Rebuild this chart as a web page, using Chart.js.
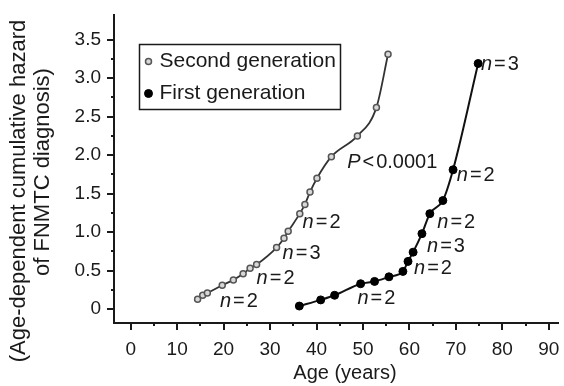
<!DOCTYPE html>
<html>
<head>
<meta charset="utf-8">
<script src="https://cdn.jsdelivr.net/npm/chart.js@4.4.0/dist/chart.umd.min.js"></script>
<style>
html, body { margin: 0; padding: 0; background: #fff; }
#wrap { width: 564px; height: 386px; }
</style>
</head>
<body>
<div id="wrap"><canvas id="hazard"></canvas></div>
<script>
// values
var secondAge = [14.4, 15.5, 16.5, 19.7, 22.1, 24.2, 25.7, 27.1, 31.4, 33.0, 33.9, 36.4, 37.5, 38.6, 40.1, 43.2, 48.8, 52.9, 55.4];
var secondHazard = [0.13, 0.18, 0.21, 0.31, 0.38, 0.46, 0.53, 0.58, 0.80, 0.92, 1.01, 1.24, 1.36, 1.52, 1.70, 1.98, 2.25, 2.62, 3.31];
var firstAge = [36.3, 40.9, 43.9, 49.5, 52.5, 55.6, 58.6, 59.7, 60.8, 62.7, 64.4, 67.2, 69.4, 74.8];
var firstHazard = [0.04, 0.12, 0.18, 0.33, 0.36, 0.42, 0.49, 0.62, 0.74, 0.98, 1.24, 1.41, 1.81, 3.19];

var xMajor = [0, 10, 20, 30, 40, 50, 60, 70, 80, 90];
var xMinor = [5, 15, 25, 35, 45, 55, 65, 75, 85];
var yMajor = [0, 0.5, 1.0, 1.5, 2.0, 2.5, 3.0, 3.5];
var yMinor = [0.25, 0.75, 1.25, 1.75, 2.25, 2.75, 3.25];
var yLabels = ['0', '0.5', '1.0', '1.5', '2.0', '2.5', '3.0', '3.5'];

var xTitle = 'Age (years)';
var yTitle = ['(Age-dependent cumulative hazard', 'of FNMTC diagnosis)'];

// annotations: italic part, operator, number, anchored at (age, hazard)
var notes = [
    { age: 19.2, val: 0.10, it: 'n', op: '=', txt: '2' },
    { age: 27.1, val: 0.40, it: 'n', op: '=', txt: '2' },
    { age: 32.7, val: 0.72, it: 'n', op: '=', txt: '3' },
    { age: 37.0, val: 1.13, it: 'n', op: '=', txt: '2' },
    { age: 46.6, val: 1.90, it: 'P', op: '<', txt: '0.0001' },
    { age: 75.4, val: 3.18, it: 'n', op: '=', txt: '3' },
    { age: 70.2, val: 1.74, it: 'n', op: '=', txt: '2' },
    { age: 66.0, val: 1.12, it: 'n', op: '=', txt: '2' },
    { age: 63.8, val: 0.81, it: 'n', op: '=', txt: '3' },
    { age: 61.0, val: 0.53, it: 'n', op: '=', txt: '2' },
    { age: 48.8, val: 0.14, it: 'n', op: '=', txt: '2' }
];

var FONT = '"Liberation Sans", Arial, Helvetica, sans-serif';
var INK = '#1a1a1a';

function toPoints(xs, ys) {
    return xs.map((x, i) => ({ x: x, y: ys[i] }));
}

var tickMarks = {
    id: 'tickMarks',
    afterDraw(chart) {
        let ctx = chart.ctx, xs = chart.scales.x, ys = chart.scales.y;
        let bottom = chart.chartArea.bottom, left = chart.chartArea.left;
        ctx.save();
        ctx.strokeStyle = INK;
        ctx.lineWidth = 2;
        ctx.beginPath();
        xMajor.forEach(v => { let p = Math.round(xs.getPixelForValue(v)); ctx.moveTo(p, bottom); ctx.lineTo(p, bottom + 7); });
        xMinor.forEach(v => { let p = Math.round(xs.getPixelForValue(v)); ctx.moveTo(p, bottom); ctx.lineTo(p, bottom + 3); });
        yMajor.forEach(v => { let p = Math.round(ys.getPixelForValue(v)); ctx.moveTo(left, p); ctx.lineTo(left - 7, p); });
        yMinor.forEach(v => { let p = Math.round(ys.getPixelForValue(v)); ctx.moveTo(left, p); ctx.lineTo(left - 3, p); });
        ctx.stroke();
        ctx.restore();
    }
};

// axis titles, placed as in the original figure
var axisTitles = {
    id: 'axisTitles',
    afterDraw(chart) {
        let ctx = chart.ctx;
        ctx.save();
        ctx.fillStyle = INK;
        ctx.textAlign = 'center';
        ctx.textBaseline = 'middle';
        ctx.font = '20px ' + FONT;
        ctx.fillText(xTitle, 345, 373);
        ctx.font = '22px ' + FONT;
        [[19, 191], [43, 172]].forEach((c, i) => {
            ctx.save();
            ctx.translate(c[0], c[1]);
            ctx.rotate(-Math.PI / 2);
            ctx.fillText(yTitle[i], 0, 0);
            ctx.restore();
        });
        ctx.restore();
    }
};

var noteText = {
    id: 'noteText',
    afterDatasetsDraw(chart) {
        let ctx = chart.ctx, xs = chart.scales.x, ys = chart.scales.y;
        ctx.save();
        ctx.fillStyle = INK;
        ctx.textBaseline = 'middle';
        notes.forEach(n => {
            let x = xs.getPixelForValue(n.age), y = ys.getPixelForValue(n.val);
            ctx.font = 'italic 20px ' + FONT;
            ctx.fillText(n.it, x, y);
            x += ctx.measureText(n.it).width + 2;
            ctx.font = '20px ' + FONT;
            ctx.fillText(n.op, x, y);
            x += ctx.measureText(n.op).width + 2;
            ctx.fillText(n.txt, x, y);
        });
        ctx.restore();
    }
};

var boxLegend = {
    id: 'boxLegend',
    afterDraw(chart) {
        let ctx = chart.ctx, area = chart.chartArea;
        let bx = area.left + 25.5, by = area.top + 29.5, bw = 201, bh = 65;
        ctx.save();
        ctx.strokeStyle = INK;
        ctx.lineWidth = 1.5;
        ctx.strokeRect(bx, by, bw, bh);
        ctx.font = '21px ' + FONT;
        ctx.textBaseline = 'middle';
        chart.data.datasets.forEach((ds, i) => {
            let cy = by + 17 + i * 32;
            ctx.beginPath();
            ctx.arc(bx + 9, cy, ds.pointRadius, 0, Math.PI * 2);
            ctx.fillStyle = ds.pointBackgroundColor;
            ctx.fill();
            ctx.lineWidth = ds.pointBorderWidth;
            ctx.strokeStyle = ds.pointBorderColor;
            ctx.stroke();
            ctx.fillStyle = INK;
            ctx.fillText(ds.label, bx + 20, cy);
        });
        ctx.restore();
    }
};

var ctx = document.getElementById('hazard').getContext('2d');
new Chart(ctx, {
    type: 'scatter',
    data: {
        datasets: [
            {
                label: 'Second generation',
                data: toPoints(secondAge, secondHazard),
                showLine: true,
                cubicInterpolationMode: 'monotone',
                borderColor: '#333',
                borderWidth: 1.8,
                pointRadius: 3,
                pointBorderWidth: 1.5,
                pointBorderColor: '#555',
                pointBackgroundColor: '#d8d8d8'
            },
            {
                label: 'First generation',
                data: toPoints(firstAge, firstHazard),
                showLine: true,
                cubicInterpolationMode: 'monotone',
                borderColor: '#111',
                borderWidth: 2,
                pointRadius: 4,
                pointBorderWidth: 1,
                pointBorderColor: '#000',
                pointBackgroundColor: '#000'
            }
        ]
    },
    options: {
        responsive: true,
        maintainAspectRatio: false,
        animation: false,
        layout: { padding: { top: 15, right: 0, left: 0, bottom: 0 } },
        plugins: { legend: { display: false }, tooltip: { enabled: false } },
        scales: {
            x: {
                type: 'linear',
                min: -3.6,
                max: 92.1,
                afterBuildTicks: (scale) => { scale.ticks = xMajor.map(v => ({ value: v })); },
                afterFit: (scale) => { scale.height = 63; scale.paddingLeft = 0; scale.paddingRight = 0; },
                grid: { display: false },
                border: { display: true, color: INK, width: 2 },
                ticks: { color: INK, padding: 7, maxRotation: 0, font: { size: 19, family: FONT } }
            },
            y: {
                type: 'linear',
                min: -0.18,
                max: 3.82,
                afterBuildTicks: (scale) => { scale.ticks = yMajor.map(v => ({ value: v })); },
                afterFit: (scale) => { scale.width = 114; scale.paddingTop = 0; scale.paddingBottom = 0; },
                grid: { display: false },
                border: { display: true, color: INK, width: 2 },
                ticks: {
                    color: INK,
                    padding: 5,
                    font: { size: 19, family: FONT },
                    callback: (v) => yLabels[yMajor.indexOf(v)]
                }
            }
        }
    },
    plugins: [tickMarks, noteText, boxLegend, axisTitles]
});
</script>
</body>
</html>
